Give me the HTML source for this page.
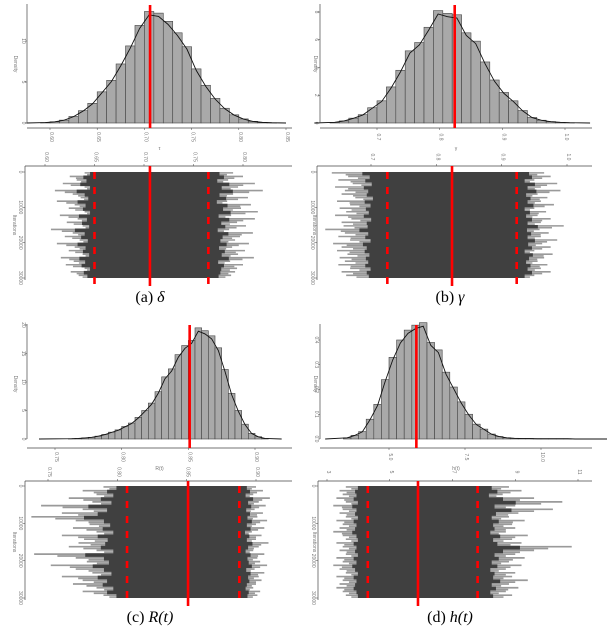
<!DOCTYPE html>
<html><head><meta charset="utf-8"><style>
html,body{margin:0;padding:0;background:#fff;width:607px;height:639px;overflow:hidden}
svg{display:block}
.t{font-family:"Liberation Sans",sans-serif;font-size:5px;fill:#777}
.cap{font-family:"Liberation Serif",serif;font-size:16px;fill:#000}
</style></head><body>
<svg id="fig" width="607" height="639" viewBox="0 0 607 639"></svg>
<script>
// ---- data ----
const histA=[0.05,0.15,0.35,0.8,1.5,2.4,3.8,5.2,7.2,9.4,11.9,13.6,13.4,12.4,11.0,9.3,6.6,4.6,3.0,1.8,1.0,0.5,0.2,0.08,0.03];
const histB=[0.05,0.15,0.35,0.6,1.1,1.6,2.6,3.8,5.2,5.8,6.9,8.1,7.9,7.8,6.5,5.9,4.4,3.1,2.2,1.6,0.9,0.4,0.2,0.1,0.05,0.02];
const histC=[0.05,0.1,0.2,0.3,0.5,0.8,1.2,1.6,2.2,2.8,3.8,5.0,6.3,8.3,10.9,12.3,14.8,16.4,17.3,19.5,19.0,18.1,16.0,12.2,8.0,5.0,2.6,1.0,0.4,0.1];
const histD=[0.005,0.015,0.03,0.08,0.14,0.24,0.33,0.40,0.44,0.46,0.47,0.39,0.36,0.27,0.21,0.15,0.10,0.06,0.04,0.02,0.01,0.005,0.003,0.002,0.002,0.001,0.001,0.001,0.001,0.001,0,0,0,0];
const traceLeftA=[0.640,0.625,0.632,0.618,0.640,0.610,0.628,0.636,0.612,0.630,0.624,0.640,0.615,0.633,0.622,0.638,0.606,0.628,0.620,0.635,0.612,0.630,0.624,0.638,0.616,0.629,0.621,0.640,0.626,0.634];
const traceRightA=[0.790,0.800,0.785,0.812,0.795,0.820,0.790,0.805,0.784,0.808,0.798,0.815,0.788,0.812,0.794,0.803,0.786,0.810,0.797,0.792,0.806,0.789,0.802,0.795,0.811,0.787,0.800,0.794,0.792,0.788];
const traceLeftB=[0.640,0.665,0.650,0.672,0.645,0.660,0.655,0.676,0.648,0.668,0.652,0.662,0.645,0.670,0.655,0.658,0.630,0.660,0.650,0.668,0.642,0.655,0.648,0.664,0.652,0.660,0.650,0.668,0.655,0.662];
const traceRightB=[0.965,0.975,0.950,0.985,0.960,0.990,0.955,0.970,0.960,0.980,0.950,0.968,0.955,0.975,0.960,0.995,0.958,0.972,0.960,0.985,0.962,0.975,0.950,0.978,0.965,0.955,0.970,0.960,0.975,0.950];
const traceLeftC=[0.790,0.775,0.785,0.765,0.782,0.745,0.775,0.760,0.738,0.770,0.780,0.768,0.785,0.760,0.776,0.772,0.765,0.785,0.740,0.770,0.778,0.752,0.770,0.782,0.760,0.775,0.768,0.785,0.775,0.790];
const traceRightC=[0.900,0.905,0.898,0.910,0.902,0.907,0.899,0.905,0.901,0.908,0.900,0.906,0.897,0.904,0.900,0.909,0.902,0.898,0.906,0.901,0.903,0.908,0.899,0.906,0.902,0.904,0.900,0.898,0.903,0.901];
const traceLeftD=[3.6,3.4,3.5,3.3,3.6,3.2,3.5,3.4,3.6,3.3,3.5,3.4,3.2,3.5,3.6,3.3,3.5,3.4,3.6,3.3,3.5,3.2,3.4,3.6,3.3,3.5,3.4,3.3,3.5,3.6];
const traceRightD=[8.8,9.2,8.6,9.6,10.5,9.0,10.2,9.1,8.8,9.3,8.9,9.0,8.7,9.4,8.9,9.2,10.8,9.6,9.0,9.3,8.8,9.2,8.7,9.0,8.9,9.4,8.8,9.1,8.7,8.9];
const histXTicksA=[0.60,0.65,0.70,0.75,0.80,0.85], histYTicksA=[0,5,10];
const histXTicksB=[0.7,0.8,0.9,1.0], histYTicksB=[0,2,4,6,8];
const histXTicksC=[0.75,0.80,0.85,0.90], histYTicksC=[0,5,10,15,20];
const histXTicksD=[5.0,7.5,10.0], histYTicksD=[0.0,0.1,0.2,0.3,0.4];
const traceTicksA=[0.60,0.65,0.70,0.75,0.80], traceTicksB=[0.7,0.8,0.9,1.0];
const traceTicksC=[0.75,0.80,0.85,0.90], traceTicksD=[3,5,7,9,11];
const iterTicks=[0,10000,20000,30000];
const quantA=[0.650,0.706,0.765], quantB=[0.725,0.824,0.923], quantC=[0.807,0.851,0.888], quantD=[4.3,5.9,7.8];
// ---- geometry ----
const panels=[
 {id:'a',cap:'(a) ',sym:'δ',xl:'τ',hist:histA,start:0.59,bw:0.01,tail:[0.575,0.85],hx:[0.60,50,0.85,286],hy:[0,123,10,41],hxt:histXTicksA,hyt:histYTicksA,fmt:2,
  tx:[0.60,45,0.80,243],tt:traceTicksA,tL:traceLeftA,tR:traceRightA,q:quantA,oy:0,ox:0,hax:27,tax:25},
 {id:'b',cap:'(b) ',sym:'γ',xl:'γ',hist:histB,start:0.625,bw:0.015,tail:[0.60,1.04],hx:[0.7,377,1.0,565],hy:[0,123,8,12],hxt:histXTicksB,hyt:histYTicksB,fmt:1,
  tx:[0.7,371,1.0,567],tt:traceTicksB,tL:traceLeftB,tR:traceRightB,q:quantB,oy:0,ox:300,hax:320,tax:317},
 {id:'c',cap:'(c) ',sym:'R(t)',xl:'R(t)',hist:histC,start:0.76,bw:0.005,tail:[0.738,0.92],hx:[0.75,55,0.90,255],hy:[0,439,20,325],hxt:histXTicksC,hyt:histYTicksC,fmt:2,
  tx:[0.75,48,0.90,256],tt:traceTicksC,tL:traceLeftC,tR:traceRightC,q:quantC,oy:320,ox:0,hax:27,tax:25},
 {id:'d',cap:'(d) ',sym:'h(t)',xl:'h(t)',hist:histD,start:3.5,bw:0.25,tail:[2.9,12.3],hx:[5,389,10,541],hy:[0,439,0.4,340],hxt:histXTicksD,hyt:histYTicksD,fmt:1,
  tx:[3,327,11,578],tt:traceTicksD,tL:traceLeftD,tR:traceRightD,q:quantD,oy:320,ox:300,hax:320,tax:318}
];
const NS='http://www.w3.org/2000/svg';
const svg=document.getElementById('fig');
function mk(tag,attrs,parent){const e=document.createElementNS(NS,tag);for(const k in attrs)e.setAttribute(k,attrs[k]);(parent||svg).appendChild(e);return e;}
function lin(a){return v=>a[1]+(v-a[0])*(a[3]-a[1])/(a[2]-a[0]);}
panels.forEach(p=>{
  const g=mk('g',{});
  
  
  const X=lin(p.hx),Y=lin(p.hy);
  const base=Y(0), axisY=p.oy+128, right=p.ox+292;
  const hg=mk('g',{},g);
  
  
  p.hist.forEach((d,i)=>{
    const x0=X(p.start+i*p.bw),x1=X(p.start+(i+1)*p.bw),y=Y(d);
    const r=mk('rect',{x:x0,y:y,width:x1-x0,height:base-y,fill:'#a9a9a9',stroke:'#444','stroke-width':0.6},hg);
    
    
  });
  let pts=[[X(p.tail[0]),base]];
  p.hist.forEach((d,i)=>pts.push([X(p.start+(i+0.5)*p.bw),Y(d*0.97)]));
  pts.push([X(p.tail[1]),base]);
  const dl=mk('polyline',{points:pts.map(q=>q.join(',')).join(' '),fill:'none',stroke:'#111','stroke-width':0.9},g);
  
  
  mk('line',{x1:p.hax,y1:p.oy+4,x2:p.hax,y2:base,stroke:'#444','stroke-width':0.7},g);
  mk('line',{x1:p.hax,y1:axisY,x2:right,y2:axisY,stroke:'#444','stroke-width':0.7},g);
  p.hyt.forEach(v=>{const y=Y(v);mk('line',{x1:p.hax-2,y1:y,x2:p.hax,y2:y,stroke:'#444','stroke-width':0.5},g);
    const t=mk('text',{x:p.hax-5,y:y,class:'t','text-anchor':'middle',transform:`rotate(90 ${p.hax-5} ${y})`},g);t.textContent=v.toFixed(p.id==='d'?1:0);});
  p.hxt.forEach(v=>{const x=X(v);mk('line',{x1:x,y1:axisY,x2:x,y2:axisY+2,stroke:'#444','stroke-width':0.5},g);
    const t=mk('text',{x:x,y:axisY+9,class:'t','text-anchor':'middle',transform:`rotate(90 ${x} ${axisY+9})`},g);t.textContent=v.toFixed(p.fmt);});
  const yl=mk('text',{x:p.ox+14,y:p.oy+64,class:'t','text-anchor':'middle',transform:`rotate(90 ${p.ox+14} ${p.oy+64})`},g);yl.textContent='Density';
  
  const xl=mk('text',{x:(p.hax+right)/2,y:p.oy+150,class:'t','text-anchor':'middle'},g);xl.textContent=p.xl;
  
  const hm=mk('line',{x1:X(p.q[1]),y1:p.oy+5,x2:X(p.q[1]),y2:axisY,stroke:'#f00','stroke-width':2.6},g);
  
  // ---- trace ----
  const TX=lin(p.tx);
  const tTop=p.oy+(p.oy?161:166), i0=p.oy+(p.oy?166:172), i1=p.oy+278;
  const IY=lin([0,i0,30000,i1]);
  mk('line',{x1:p.tax,y1:tTop,x2:right,y2:tTop,stroke:'#444','stroke-width':0.7},g);
  mk('line',{x1:p.tax,y1:tTop,x2:p.tax,y2:i1+2,stroke:'#444','stroke-width':0.7},g);
  p.tt.forEach(v=>{const x=TX(v);mk('line',{x1:x,y1:tTop-2,x2:x,y2:tTop,stroke:'#444','stroke-width':0.5},g);
    const t=mk('text',{x:x,y:tTop-9,class:'t','text-anchor':'middle',transform:`rotate(90 ${x} ${tTop-9})`},g);t.textContent=p.id==='d'?String(v):v.toFixed(p.fmt);});
  iterTicks.forEach(v=>{const y=IY(v);mk('line',{x1:p.tax-2,y1:y,x2:p.tax,y2:y,stroke:'#444','stroke-width':0.5},g);
    const t=mk('text',{x:p.tax-6,y:y,class:'t','text-anchor':'middle',transform:`rotate(90 ${p.tax-6} ${y})`},g);t.textContent=v;});
  const il=mk('text',{x:p.ox+13,y:(i0+i1)/2,class:'t','text-anchor':'middle',transform:`rotate(90 ${p.ox+13} ${(i0+i1)/2})`},g);il.textContent='Iterations';
  
  const n=p.tL.length, step=30000/n, rowH=IY(step)-IY(0);
  // light-gray spikes
  const sg=mk('g',{stroke:'#9a9a9a'},g);
  
  
  p.tL.forEach((v,i)=>{
    const y=IY((i+0.5)*step);
    mk('line',{x1:TX(v),y1:y-rowH*0.25,x2:TX(p.q[1]),y2:y-rowH*0.25,'stroke-width':rowH*0.45},sg);
    mk('line',{x1:TX(p.q[0]+(v-p.q[0])*0.75),y1:y+rowH*0.25,x2:TX(p.q[1]),y2:y+rowH*0.25,'stroke-width':rowH*0.45},sg);
  });
  p.tR.forEach((v,i)=>{
    const y=IY((i+0.5)*step);
    mk('line',{x1:TX(p.q[1]),y1:y-rowH*0.25,x2:TX(v),y2:y-rowH*0.25,'stroke-width':rowH*0.45},sg);
    mk('line',{x1:TX(p.q[1]),y1:y+rowH*0.25,x2:TX(p.q[2]+(v-p.q[2])*0.75),y2:y+rowH*0.25,'stroke-width':rowH*0.45},sg);
  });
  function env(L,R,f){let a=[],b=[];
    L.forEach((v,i)=>{const vv=p.q[0]+(v-p.q[0])*f;a.push([TX(vv),IY(i*step)],[TX(vv),IY((i+1)*step)]);});
    R.forEach((v,i)=>{const vv=p.q[2]+(v-p.q[2])*f;b.push([TX(vv),IY(i*step)],[TX(vv),IY((i+1)*step)]);});
    return a.concat(b.reverse()).map(q=>q.join(',')).join(' ');}
  const dp=mk('polygon',{points:env(p.tL,p.tR,0.45),fill:'#404040'},g);
  
  mk('rect',{x:TX(p.q[0]),y:i0,width:TX(p.q[2])-TX(p.q[0]),height:i1-i0,fill:'#404040'},g);
  [0,2].forEach(k=>{const x=TX(p.q[k]);const l=mk('line',{x1:x,y1:i0,x2:x,y2:i1+8,stroke:'#f00','stroke-width':2.6,'stroke-dasharray':'7,8'},g);
    });
  const tm=mk('line',{x1:TX(p.q[1]),y1:tTop,x2:TX(p.q[1]),y2:i1+8,stroke:'#f00','stroke-width':2.6},g);
  
  const c=mk('text',{x:p.ox+150,y:p.oy+302,class:'cap','text-anchor':'middle'},g);
  
  c.appendChild(document.createTextNode(p.cap));
  const ts=mk('tspan',{'font-style':'italic'},c);ts.textContent=p.sym;
});
</script>
</body></html>
